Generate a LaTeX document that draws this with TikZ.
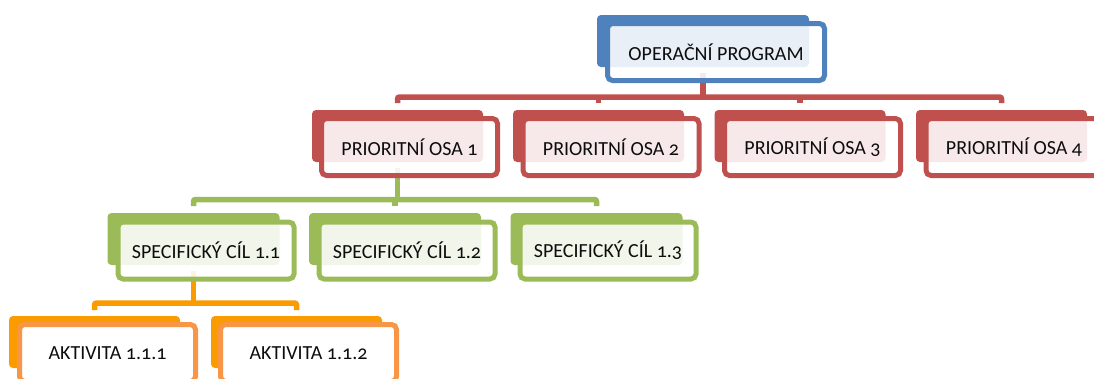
\documentclass[tikz,border=0pt]{standalone}
\usepackage{fontspec}
\setmainfont{Carlito}[Numbers=OldStyle]
\definecolor{cblue}{HTML}{4F81BD}
\definecolor{cred}{HTML}{C0504D}
\definecolor{cgreen}{HTML}{9BBB59}
\definecolor{corange}{RGB}{250,155,0}
\definecolor{corangelt}{HTML}{F79646}
\definecolor{ctext}{HTML}{0D0D0D}
\tikzset{
  backbox/.style={rectangle, rounded corners=4pt, fill=#1, draw=none,
    minimum width=171pt, minimum height=52pt, inner sep=0pt},
  frontbox/.style={rectangle, rounded corners=5pt, draw=#1, line width=5pt,
    fill=white, fill opacity=0.88, text opacity=1, text=ctext,
    minimum width=176pt, minimum height=57pt, inner sep=0pt,
    font=\fontsize{20pt}{22pt}\selectfont},
  frontsolid/.style={frontbox=#1, fill opacity=1},
  conn/.style={draw=#1, line width=5.5pt, rounded corners=2pt}
}
\begin{document}
\begin{tikzpicture}[x=1pt,y=-1pt]
\useasboundingbox (0,0) rectangle (1094,378);
% bus coordinates
\coordinate (redbus) at (0,97);
\coordinate (greenbus) at (0,199.5);
\coordinate (orangebus) at (0,303);
% box centres
\path (703,41) coordinate (b0c);
\path (397.5,136) coordinate (p1c) (598.5,136) coordinate (p2c) (800,136) coordinate (p3c) (1001.5,136) coordinate (p4c);
\path (193.5,239) coordinate (s1c) (395,239) coordinate (s2c) (596.5,239) coordinate (s3c);
\path (94.5,342) coordinate (a1c) (296.5,342) coordinate (a2c);
% connectors first
\draw[conn=cred] ([yshift=-32pt]b0c) -- (b0c |- redbus);
\draw[conn=cred] ([yshift=33pt]p1c) -- (p1c |- redbus) -- (p4c |- redbus) -- ([yshift=33pt]p4c);
\draw[conn=cred] ([yshift=33pt]p2c) -- (p2c |- redbus);
\draw[conn=cred] ([yshift=33pt]p3c) -- (p3c |- redbus);
\draw[conn=cgreen] ([yshift=-32pt]p1c) -- (p1c |- greenbus);
\draw[conn=cgreen] ([yshift=33pt]s1c) -- (s1c |- greenbus) -- (s3c |- greenbus) -- ([yshift=33pt]s3c);
\draw[conn=cgreen] ([yshift=33pt]s2c) -- (s2c |- greenbus);
\draw[conn=corange] ([yshift=-32pt]s1c) -- (s1c |- orangebus);
\draw[conn=corange] ([yshift=32pt]a1c) -- (a1c |- orangebus) -- (a2c |- orangebus) -- ([yshift=32pt]a2c);
% program
\node[backbox=cblue, minimum width=212pt] (b0) at (b0c) {};
\node[frontbox=cblue, minimum width=217pt] (f0) at (716,52) {OPERAČNÍ PROGRAM};
% priority axes
\node[backbox=cred] (p1) at (p1c) {};
\node[frontbox=cred] (q1) at (409.5,147) {PRIORITNÍ OSA 1};
\node[backbox=cred] (p2) at (p2c) {};
\node[frontbox=cred] (q2) at (611,147) {PRIORITNÍ OSA 2};
\node[backbox=cred] (p3) at (p3c) {};
\node[frontbox=cred] (q3) at (812.5,147) {PRIORITNÍ OSA 3};
\node[backbox=cred] (p4) at (p4c) {};
\node[frontbox=cred] (q4) at (1014,147) {PRIORITNÍ OSA 4};
% specific goals
\node[backbox=cgreen, minimum width=172pt] (s1) at (s1c) {};
\node[frontbox=cgreen] (t1) at (206,250.5) {SPECIFICKÝ CÍL 1.1};
\node[backbox=cgreen, minimum width=172pt] (s2) at (s2c) {};
\node[frontbox=cgreen] (t2) at (407,250.5) {SPECIFICKÝ CÍL 1.2};
\node[backbox=cgreen, minimum width=172pt] (s3) at (s3c) {};
\node[frontbox=cgreen] (t3) at (608,250.5) {SPECIFICKÝ CÍL 1.3};
% activities
\node[backbox=corange] (a1) at (a1c) {};
\node[frontsolid=corangelt] (u1) at (107.5,353) {AKTIVITA 1.1.1};
\node[backbox=corange] (a2) at (a2c) {};
\node[frontsolid=corangelt] (u2) at (308.5,353) {AKTIVITA 1.1.2};
\end{tikzpicture}
\end{document}
